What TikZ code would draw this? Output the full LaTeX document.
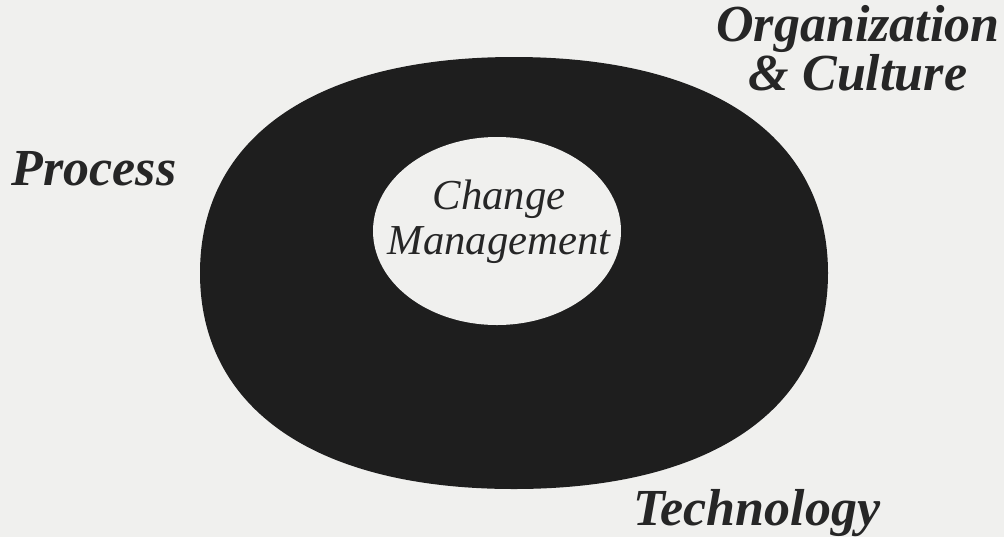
\documentclass[tikz,border=0pt]{standalone}
\usepackage{fontspec}
\setmainfont{Liberation Serif}

\definecolor{paper}{RGB}{240,240,238}
\definecolor{ink}{RGB}{38,38,38}
\definecolor{ringgray}{RGB}{30,30,30}

\begin{document}

\begin{tikzpicture}[
  x=0.75pt, y=-0.75pt,
  ring/.style={fill=ringgray},
  hole/.style={fill=paper},
  lbl/.style={text=ink, font=\bfseries\itshape\fontsize{39}{34}\selectfont, inner sep=0pt, anchor=base},
  core/.style={text=ink, font=\itshape\fontsize{32}{34}\selectfont, inner sep=0pt, align=center}
]

\useasboundingbox [fill=paper] (0,0) rectangle (1004,537);

% outer band, a rounded squarish ring
\path [ring] (828,273) .. controls (828,137) and (712,57) .. (514,57)
  .. controls (316,57) and (200,137) .. (200,273)
  .. controls (200,409) and (316,489) .. (514,489)
  .. controls (712,489) and (828,409) .. (828,273) -- cycle;

% the light middle
\path [hole] (497,231) ellipse [x radius=124, y radius=94];

\node [core] (change) at (499,222) {Change\\Management};

\node [lbl] (process) at (94,185) {Process};
\node [lbl, align=center] (org) at (858,90) {Organization\\\& Culture};
\node [lbl] (tech) at (757,525) {Technology};

\end{tikzpicture}

\end{document}
